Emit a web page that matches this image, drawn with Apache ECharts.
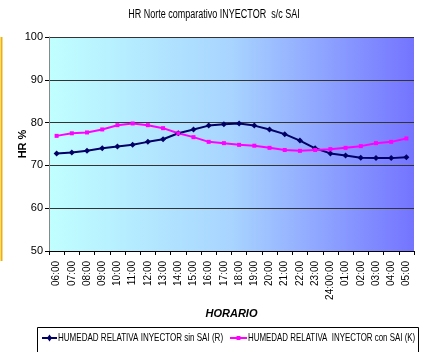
<!DOCTYPE html>
<html><head><meta charset="utf-8">
<script src="https://cdn.jsdelivr.net/npm/echarts@6/dist/echarts.min.js"></script>
<style>html,body{margin:0;padding:0;background:#fff}#c{width:429px;height:352px}</style>
</head><body><div id="c"></div>
<script>
var categories = ["06:00","07:00","08:00","09:00","10:00","11:00","12:00","13:00","14:00","15:00","16:00","17:00","18:00","19:00","20:00","21:00","22:00","23:00","24:00:00","01:00","02:00","03:00","04:00","05:00"];
var sinSAI = [72.8,73.0,73.4,74.0,74.4,74.8,75.5,76.1,77.5,78.4,79.3,79.6,79.8,79.3,78.4,77.3,75.8,74.0,72.8,72.3,71.8,71.7,71.7,71.9];
var conSAI = [76.9,77.5,77.7,78.4,79.4,79.8,79.4,78.7,77.5,76.6,75.5,75.2,74.8,74.6,74.1,73.6,73.4,73.6,73.8,74.1,74.5,75.2,75.5,76.3];
var yTicks = [50,60,70,80,90,100];
var seriesNames = ["HUMEDAD RELATIVA INYECTOR sin SAI (R)","HUMEDAD RELATIVA  INYECTOR con SAI (K)"];
var titleText = 'HR Norte comparativo INYECTOR  s/c SAI';
var colors = ['#000066', '#ff00ff'];

var SANS = '"Liberation Sans", Arial, sans-serif';
var NARROWFONT = '11px "Liberation Sans", Arial, sans-serif';

// legend drawn as graphic (narrow text via scaleX)
var legendGraphic = {
  type:'group', x:37, y:327,
  children:[
    {type:'rect', shape:{x:0.5,y:0.5,width:381,height:30}, style:{fill:'#fff', stroke:'#000', lineWidth:1}},
    {type:'line', shape:{x1:5,y1:11,x2:20,y2:11}, style:{stroke:colors[0], lineWidth:2}},
    {type:'polygon', shape:{points:[[12.5,7.5],[15,11],[12.5,14.5],[10,11]]}, style:{fill:colors[0]}},
    {type:'text', x:21, y:11, scaleX:0.73, style:{text:seriesNames[0], font:NARROWFONT, fill:'#000', textVerticalAlign:'middle'}},
    {type:'line', shape:{x1:193,y1:11,x2:210,y2:11}, style:{stroke:colors[1], lineWidth:2}},
    {type:'rect', shape:{x:199.5,y:9,width:4,height:4}, style:{fill:colors[1]}},
    {type:'text', x:211, y:11, scaleX:0.72, style:{text:seriesNames[1], font:NARROWFONT, fill:'#000', textVerticalAlign:'middle'}}
  ]
};

var chart = echarts.init(document.getElementById('c'), null, {renderer:'canvas'});
chart.setOption({
  animation:false,
  backgroundColor:'#fff',
  graphic:[
    {type:'text', x:214, y:15, scaleX:0.75, style:{text:titleText, font:'12px "Liberation Sans", Arial, sans-serif', fill:'#000', textAlign:'center', textVerticalAlign:'middle'}},
    {type:'line', shape:{x1:1.5,y1:37,x2:1.5,y2:261}, style:{stroke:'#f0b000', lineWidth:2}},
    legendGraphic
  ],
  grid:{left:49, right:15, top:37, bottom:101,
    show:true, borderWidth:0,
    backgroundColor:new echarts.graphic.LinearGradient(0,0,1,0,[{offset:0,color:'#c0ffff'},{offset:0.5,color:'#a8d4ff'},{offset:1,color:'#7474ff'}])},
  xAxis:{type:'category', data:categories, boundaryGap:true,
    name:'HORARIO', nameLocation:'middle', nameGap:57,
    nameTextStyle:{fontFamily:SANS, fontSize:11, fontWeight:'bold', fontStyle:'italic', color:'#000'},
    axisLine:{lineStyle:{color:'#000', width:1}},
    axisTick:{show:true, alignWithLabel:false, length:4, lineStyle:{color:'#000'}},
    axisLabel:{rotate:90, interval:0, fontFamily:SANS, fontSize:10, color:'#000', margin:10}},
  yAxis:{type:'value', min:yTicks[0], max:yTicks[yTicks.length-1], interval:10,
    name:'HR %', nameLocation:'middle', nameGap:21, nameMoveOverlap:false,
    nameTextStyle:{fontFamily:SANS, fontSize:11, fontWeight:'bold', color:'#000'},
    axisLine:{show:true, lineStyle:{color:'#888', width:1}},
    axisTick:{show:true, length:4, lineStyle:{color:'#000'}},
    splitLine:{show:true, lineStyle:{color:'#333', width:1}},
    axisLabel:{fontFamily:SANS, fontSize:11, color:'#000', margin:6}},
  series:[
    {name:seriesNames[0], type:'line', data:sinSAI, symbol:'diamond', symbolSize:6,
     lineStyle:{color:colors[0], width:2}, itemStyle:{color:colors[0]}},
    {name:seriesNames[1], type:'line', data:conSAI, symbol:'rect', symbolSize:4,
     lineStyle:{color:colors[1], width:2}, itemStyle:{color:colors[1]}}
  ]
});
</script></body></html>
